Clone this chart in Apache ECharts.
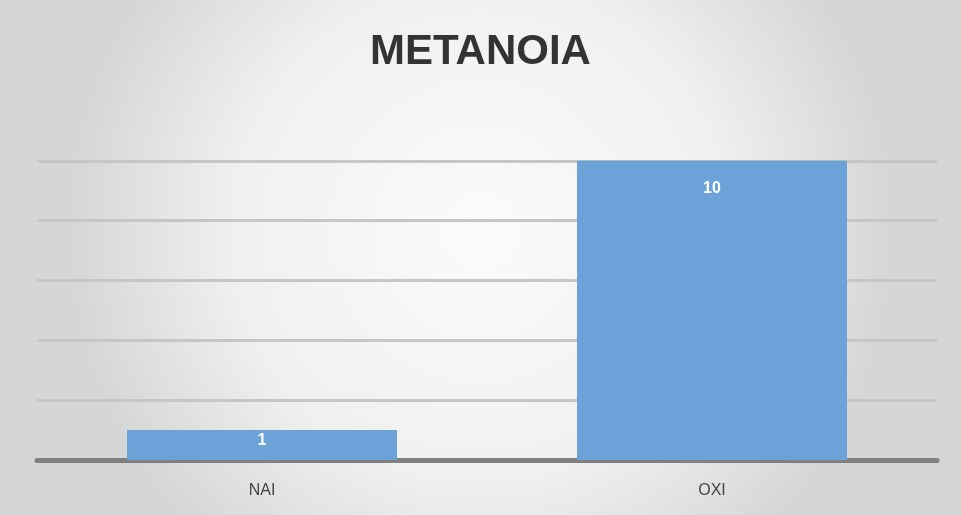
<!DOCTYPE html>
<html><head><meta charset="utf-8">
<script src="https://cdn.jsdelivr.net/npm/echarts@6/dist/echarts.min.js"></script>
<style>html,body{margin:0;padding:0;background:#fff}#c{width:961px;height:515px}</style>
</head><body><div id="c"></div>
<script>
const categories = ['NAI', 'OXI'];
const values = [1, 10];
const labelOffsets = [3, 20];
const chart = echarts.init(document.getElementById('c'));
chart.setOption({
  backgroundColor: {type:'radial', x:0.5, y:0.45, r:0.8, colorStops:[{offset:0,color:'#fbfbfb'},{offset:0.6,color:'#f0f0f0'},{offset:1,color:'#d6d6d6'}]},
  title: {text:'METANOIA', left:'center', top:26, textStyle:{fontFamily:'Liberation Sans', fontWeight:'bold', fontSize:42, color:'#333'}},
  grid: {left:37, right:24, top:101, bottom:55},
  xAxis: {type:'category', data:categories,
    axisLine:{lineStyle:{color:'#808080', width:5}}, axisTick:{show:false},
    axisLabel:{fontFamily:'Liberation Sans', fontSize:16, color:'#444', margin:23}},
  yAxis: {type:'value', min:0, max:12, interval:2, axisLabel:{show:false}, axisLine:{show:false}, axisTick:{show:false},
    splitLine:{showMaxLine:false, lineStyle:{color:'#c6c6c6', width:3}}},
  series: [{type:'bar', barWidth:'60%',
    data: values.map((v,i)=>({value:v, label:{distance:labelOffsets[i]}})),
    itemStyle:{color:'#6ba3d9'},
    label:{show:true, position:'insideTop', color:'#fff', fontWeight:'bold', fontSize:16, fontFamily:'Liberation Sans'}}]
});
</script></body></html>
